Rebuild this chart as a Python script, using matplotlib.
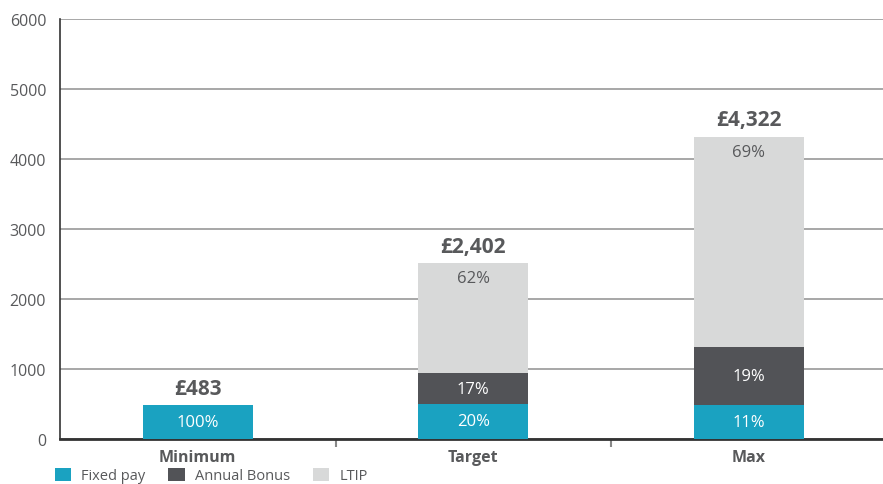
import matplotlib.pyplot as plt
import numpy as np

categories = ['Minimum', 'Target', 'Max']
fixed_pay = [483, 500, 483]
annual_bonus = [0, 436, 824]
ltip = [0, 1578, 3014]
totals = ['£483', '£2,402', '£4,322']
fixed_pct = ['100%', '20%', '11%']
bonus_pct = ['', '17%', '19%']
ltip_pct = ['', '62%', '69%']

TEAL = '#1aa2c1'
DARK = '#525357'
LIGHT = '#d8d9d9'
TXT = '#58595b'

plt.rcParams['font.family'] = ['Open Sans', 'DejaVu Sans']

fig = plt.figure(figsize=(8.83, 4.85), dpi=100)
ax = fig.add_axes([0.068, 0.0928, 0.936, 0.866])

x = np.arange(len(categories))
w = 0.4
ax.bar(x, fixed_pay, w, color=TEAL, label='Fixed pay', zorder=3)
ax.bar(x, annual_bonus, w, bottom=fixed_pay, color=DARK, label='Annual Bonus', zorder=3)
b2 = np.array(fixed_pay) + np.array(annual_bonus)
ax.bar(x, ltip, w, bottom=b2, color=LIGHT, label='LTIP', zorder=3)

tops = b2 + np.array(ltip)
for i in range(len(categories)):
    ax.text(x[i], fixed_pay[i] / 2, fixed_pct[i], ha='center', va='center',
            color='white', fontsize=12, zorder=4)
    if bonus_pct[i]:
        ax.text(x[i], fixed_pay[i] + annual_bonus[i] / 2, bonus_pct[i], ha='center',
                va='center', color='white', fontsize=12, zorder=4)
    if ltip_pct[i]:
        ax.text(x[i], tops[i] - 105, ltip_pct[i], ha='center', va='top',
                color=TXT, fontsize=12, zorder=4)
    ax.text(x[i], tops[i] + 90, totals[i], ha='center', va='bottom',
            color=TXT, fontsize=15, fontweight='bold', zorder=4)

ax.set_xlim(-0.5, 2.5)
ax.set_ylim(0, 6000)
ax.set_yticks(range(0, 7000, 1000))
ax.yaxis.grid(True, color='#a0a0a0', linewidth=1.3, zorder=0)
ax.set_axisbelow(True)
ax.tick_params(axis='y', length=0, labelsize=11.5, labelcolor=TXT, pad=10)

ax.set_xticks([0.5, 1.5])
ax.set_xticklabels([])
ax.set_xticks(x, minor=True)
ax.set_xticklabels(categories, minor=True, fontweight='bold', fontsize=11.5, color=TXT)
ax.tick_params(axis='x', which='major', length=6, width=1.5, color='#888888')
ax.tick_params(axis='x', which='minor', length=0, pad=7)

for s in ['top', 'right']:
    ax.spines[s].set_visible(False)
ax.spines['left'].set_color('#333333')
ax.spines['left'].set_linewidth(1.2)
ax.spines['bottom'].set_color('#333333')
ax.spines['bottom'].set_linewidth(2)

fig.legend(loc='lower left', bbox_to_anchor=(0.047, -0.026), ncol=3, frameon=False,
           fontsize=10.5, labelcolor=TXT, handlelength=1.1, handleheight=0.9,
           columnspacing=1.6, handletextpad=0.7)

fig.savefig('out.png', dpi=100)
